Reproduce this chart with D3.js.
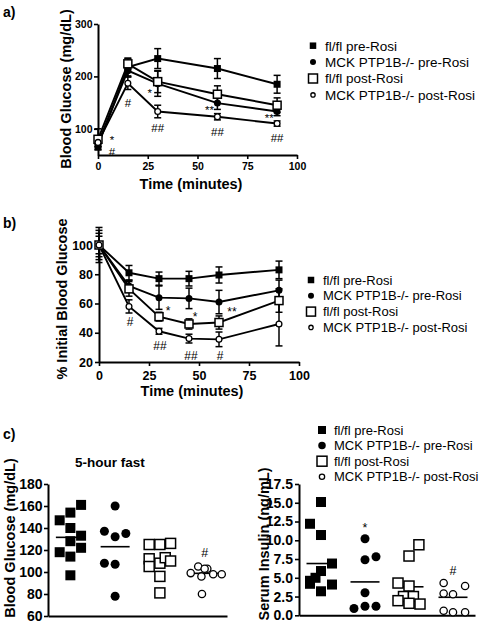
<!DOCTYPE html>
<html><head><meta charset="utf-8">
<script src="https://cdn.jsdelivr.net/npm/d3@7/dist/d3.min.js"></script>
<style>
body{margin:0;background:#fff}
svg{display:block}
text{font-family:"Liberation Sans",Arial,Helvetica,sans-serif;fill:#000}
</style>
</head><body>
<svg id="chart" width="480" height="622"></svg>
<script>
// ---------- shared ----------
const seriesNames = ["fl/fl pre-Rosi", "MCK PTP1B-/- pre-Rosi", "fl/fl post-Rosi", "MCK PTP1B-/- post-Rosi"];
const seriesShapes = ["fsq", "fci", "osq", "oci"];

// ---------- panel a: blood glucose (mg/dL) ----------
const timeA = [0, 15, 30, 60, 90];
const gttFlPre = [68, 218, 234, 215, 185];
const gttFlPreErr = [8, 17, 19, 19, 17];
const gttKoPre = [72, 211, 186, 149, 133];
const gttKoPreErr = [6, 12, 24, 12, 8];
const gttFlPost = [80, 224, 190, 166, 145];
const gttFlPostErr = [20, 10, 21, 16, 14];
const gttKoPost = [74, 187, 133, 123, 110];
const gttKoPostErr = [8, 12, 12, 6, 5];
const ticksAy = [100, 200, 300];
const ticksAx = [0, 25, 50, 75, 100];
const annotA = [
  {t: 7, v: 83, s: "*"}, {t: 7, v: 56, s: "#"},
  {t: 15, v: 149, s: "#"},
  {t: 26, v: 174, s: "*"}, {t: 30, v: 101, s: "##"},
  {t: 56, v: 141, s: "**"}, {t: 60, v: 94, s: "##"},
  {t: 86, v: 126, s: "**"}, {t: 90, v: 82, s: "##"}
];

// ---------- panel b: % initial blood glucose ----------
const timeB = [0, 15, 30, 45, 60, 90];
const ittFlPre = [100, 81, 77, 77, 79.5, 83];
const ittFlPreErr = [6, 5, 4.5, 5, 5.5, 6];
const ittKoPre = [100, 72, 64, 63.5, 61, 69];
const ittKoPreErr = [8, 4, 8, 7, 8, 7];
const ittFlPost = [100, 70, 51, 46, 47, 62];
const ittFlPostErr = [12, 5, 3, 3.5, 4.5, 8];
const ittKoPost = [100, 58, 41, 36, 35.5, 46];
const ittKoPostErr = [10, 4.5, 2, 3, 5, 15];
const ticksBy = [20, 40, 60, 80, 100];
const ticksBx = [0, 25, 50, 75, 100];
const annotB = [
  {t: 15.5, v: 47.7, s: "#"},
  {t: 34.5, v: 57, s: "*"}, {t: 30.5, v: 31, s: "##"},
  {t: 48, v: 53, s: "*"}, {t: 46, v: 24, s: "##"},
  {t: 66.5, v: 56.4, s: "**"}, {t: 60.5, v: 24, s: "#"}
];

// ---------- panel c: 5-hour fast ----------
const glucFlPre = [147, 154, 161, 140, 133, 128, 118, 122, 114, 97];
const glucFlPreSlot = [-1, 0, 1, 0, 1, 0, -1, 1, 0, 0];
const glucKoPre = [137, 160, 132, 135, 108, 107, 78];
const glucKoPreSlot = [-1, 0, 0, 1, -1, 0, 0];
const glucFlPost = [125, 125, 126, 112, 105, 108, 113, 110, 96, 81];
const glucFlPostSlot = [-1, 0, 1, -1, -1, 0, 0.5, 1, 0, 0];
const glucKoPost = [99, 105, 103, 96, 98, 98, 80, 103];
const glucKoPostSlot = [-1.3, -0.6, 0.25, -0.3, 0.8, 1.6, -0.25, 0];
const glucMeans = [131.5, 123, 111, 98.8];
const ticksCgluc = [60, 80, 100, 120, 140, 160, 180];

const insFlPre = [15.1, 12.2, 10.7, 6.9, 5.9, 5.0, 4.6, 4.2, 4.1, 3.2];
const insFlPreSlot = [0, -1, 0, 1, 0, -0.5, -1, -1, 1, 0];
const insKoPre = [10.2, 7.4, 7.8, 3.0, 0.9, 1.2, 1.2];
const insKoPreSlot = [0, 0, 1, 0, -1, 0, 1];
const insFlPost = [9.4, 7.9, 4.3, 3.9, 2.5, 2.5, 1.95, 1.6, 1.5];
const insFlPostSlot = [0.9, 0, -1, 0, -0.5, 0.4, -1, 0, 1];
const insKoPost = [4.3, 3.9, 2.9, 2.8, 0.6, 0.4, 0.4];
const insKoPostSlot = [-0.85, 1.1, -0.85, 0, -0.85, 0, 1.1];
const insMeans = [6.9, 4.45, 3.8, 2.4];
const ticksCins = [0, 2.5, 5, 7.5, 10, 12.5, 15, 17.5];
const annotC = [
  {chart: "gluc", g: 3, v: 118, s: "#"},
  {chart: "ins", g: 1, v: 12.0, s: "*"},
  {chart: "ins", g: 3, v: 6.0, s: "#"}
];

// ---------- helpers ----------
const svg = d3.select("#chart");

function marker(g, shape, x, y, s) {
  if (shape === "fsq") {
    g.append("rect").attr("x", x - s / 2).attr("y", y - s / 2).attr("width", s).attr("height", s).attr("fill", "#000");
  } else if (shape === "osq") {
    g.append("rect").attr("x", x - s / 2).attr("y", y - s / 2).attr("width", s).attr("height", s)
      .attr("fill", "#fff").attr("stroke", "#000").attr("stroke-width", 1.5);
  } else if (shape === "fci") {
    g.append("circle").attr("cx", x).attr("cy", y).attr("r", s / 2).attr("fill", "#000");
  } else {
    g.append("circle").attr("cx", x).attr("cy", y).attr("r", s / 2 - 0.6)
      .attr("fill", "#fff").attr("stroke", "#000").attr("stroke-width", 1.3);
  }
}

function annot(g, x, y, s, size) {
  const off = s.indexOf("*") >= 0 ? 0.57 * size : 0.36 * size;
  g.append("text").attr("x", x).attr("y", y + off).attr("text-anchor", "middle")
    .attr("font-size", size).text(s);
}

function styleAxis(ax, fs) {
  ax.select(".domain").attr("stroke", "#000").attr("stroke-width", 2);
  ax.selectAll(".tick line").attr("stroke", "#000").attr("stroke-width", 1.6);
  ax.selectAll(".tick text").attr("font-size", fs).attr("font-weight", "bold")
    .attr("font-family", '"Liberation Sans",Arial,Helvetica,sans-serif').attr("fill", "#000");
}

function legend(g, x0, y0, dy, fs, sizes) {
  seriesNames.forEach((n, i) => {
    const y = y0 + i * dy;
    marker(g, seriesShapes[i], x0, y, sizes[i]);
    g.append("text").attr("x", x0 + 12).attr("y", y + fs * 0.36).attr("font-size", fs).text(n);
  });
}

function lineChart(cfg) {
  const g = svg.append("g");
  const x = d3.scaleLinear().domain([0, 100]).range(cfg.xr);
  const y = d3.scaleLinear().domain(cfg.yd).range(cfg.yr);
  const ax = g.append("g").attr("transform", `translate(0,${cfg.yr[0]})`)
    .call(d3.axisBottom(x).tickValues(cfg.xticks).tickSize(4).tickSizeOuter(0).tickPadding(cfg.xpad));
  styleAxis(ax, cfg.tickFs);
  const ay = g.append("g").attr("transform", `translate(${cfg.xr[0]},0)`)
    .call(d3.axisLeft(y).tickValues(cfg.yticks).tickSize(4).tickSizeOuter(0).tickPadding(cfg.ypad));
  styleAxis(ay, cfg.tickFs);
  const line = d3.line().x(d => x(d.t)).y(d => y(d.v));
  cfg.series.forEach((s, i) => {
    const pts = cfg.times.map((t, k) => ({t: t, v: s.v[k], e: s.e[k]}));
    g.append("path").datum(pts).attr("d", line).attr("fill", "none").attr("stroke", "#000").attr("stroke-width", 1.9);
  });
  cfg.series.forEach((s, i) => {
    cfg.times.forEach((t, k) => {
      const xx = x(t), y1 = y(s.v[k] - s.e[k]), y2 = y(s.v[k] + s.e[k]);
      g.append("line").attr("x1", xx).attr("x2", xx).attr("y1", y1).attr("y2", y2).attr("stroke", "#000").attr("stroke-width", 1.5);
      [y1, y2].forEach(yy => g.append("line").attr("x1", xx - 3.5).attr("x2", xx + 3.5).attr("y1", yy).attr("y2", yy)
        .attr("stroke", "#000").attr("stroke-width", 1.5));
    });
  });
  const msz = [7, 7, 8, 7];
  cfg.series.forEach((s, i) => {
    cfg.times.forEach((t, k) => marker(g, seriesShapes[i], x(t), y(s.v[k]), msz[i]));
  });
  cfg.annots.forEach(a => annot(g, x(a.t), y(a.v), a.s, cfg.annFs));
  g.append("text").attr("transform", `translate(${cfg.ylab[0]},${cfg.ylab[1]}) rotate(-90)`)
    .attr("text-anchor", "middle").attr("font-weight", "bold").attr("font-size", 14.5).text(cfg.ytitle);
  g.append("text").attr("x", cfg.xlab[0]).attr("y", cfg.xlab[1]).attr("text-anchor", "middle")
    .attr("font-weight", "bold").attr("font-size", 14.5).text("Time (minutes)");
  return g;
}

// ---------- panel a ----------
svg.append("text").attr("x", 3).attr("y", 17).attr("font-weight", "bold").attr("font-size", 14).text("a)");
lineChart({
  xr: [98, 297], yd: [50, 300], yr: [155, 24],
  xticks: ticksAx, yticks: ticksAy, tickFs: 10.5, xpad: 4, ypad: 1.5, annFs: 11.5,
  times: timeA,
  series: [
    {v: gttFlPre, e: gttFlPreErr}, {v: gttKoPre, e: gttKoPreErr},
    {v: gttFlPost, e: gttFlPostErr}, {v: gttKoPost, e: gttKoPostErr}
  ],
  annots: annotA,
  ytitle: "Blood Glucose (mg/dL)", ylab: [71, 89], xlab: [191, 189]
});
legend(svg.append("g"), 313, 45.7, 16.4, 13.5, [6.5, 6, 9, 5.5]);

// ---------- panel b ----------
svg.append("text").attr("x", 3).attr("y", 228).attr("font-weight", "bold").attr("font-size", 14).text("b)");
lineChart({
  xr: [99, 299], yd: [20, 100], yr: [362, 245],
  xticks: ticksBx, yticks: ticksBy, tickFs: 12.5, xpad: 5, ypad: 2, annFs: 12,
  times: timeB,
  series: [
    {v: ittFlPre, e: ittFlPreErr}, {v: ittKoPre, e: ittKoPreErr},
    {v: ittFlPost, e: ittFlPostErr}, {v: ittKoPost, e: ittKoPostErr}
  ],
  annots: annotB,
  ytitle: "% Initial Blood Glucose", ylab: [67, 299], xlab: [192, 396]
});
legend(svg.append("g"), 311, 280, 15.8, 13, [6.5, 6, 9, 5.5]);

// ---------- panel c ----------
svg.append("text").attr("x", 3).attr("y", 439).attr("font-weight", "bold").attr("font-size", 14).text("c)");
svg.append("text").attr("x", 110).attr("y", 467).attr("text-anchor", "middle").attr("font-weight", "bold")
  .attr("font-size", 13.5).text("5-hour fast");

function dotChart(cfg) {
  const g = svg.append("g");
  const x = d3.scaleBand().domain(seriesNames).range(cfg.xr).paddingInner(0).paddingOuter(0);
  const y = d3.scaleLinear().domain(cfg.yd).range(cfg.yr);
  const ax = g.append("g").attr("transform", `translate(0,${cfg.yr[0]})`)
    .call(d3.axisBottom(x).tickValues([]).tickSizeOuter(0));
  styleAxis(ax, 14);
  const ay = g.append("g").attr("transform", `translate(${cfg.xr[0]},0)`)
    .call(d3.axisLeft(y).tickValues(cfg.yticks).tickSize(4).tickSizeOuter(0).tickPadding(cfg.ypad)
      .tickFormat(cfg.fmt));
  styleAxis(ay, 14);
  const cx = i => x(seriesNames[i]) + x.bandwidth() / 2;
  cfg.groups.forEach((grp, i) => {
    g.append("line").attr("x1", cx(i) - 14.5).attr("x2", cx(i) + 14.5)
      .attr("y1", y(cfg.means[i])).attr("y2", y(cfg.means[i])).attr("stroke", "#000").attr("stroke-width", 1.6);
  });
  const msz = [10, 9, 10, 8.5];
  cfg.groups.forEach((grp, i) => {
    grp.v.forEach((v, k) => marker(g, seriesShapes[i], cx(i) + grp.s[k] * cfg.slot, y(v), msz[i]));
  });
  cfg.annots.forEach(a => annot(g, cx(a.g), y(a.v), a.s, 12.5));
  g.append("text").attr("transform", `translate(${cfg.ylab[0]},${cfg.ylab[1]}) rotate(-90)`)
    .attr("text-anchor", "middle").attr("font-weight", "bold").attr("font-size", 14.5).text(cfg.ytitle);
}

dotChart({
  xr: [48, 227], yd: [60, 180], yr: [616, 484], yticks: ticksCgluc, ypad: 1.5, slot: 10.7,
  fmt: d3.format("d"),
  groups: [
    {v: glucFlPre, s: glucFlPreSlot}, {v: glucKoPre, s: glucKoPreSlot},
    {v: glucFlPost, s: glucFlPostSlot}, {v: glucKoPost, s: glucKoPostSlot}
  ],
  means: glucMeans,
  annots: annotC.filter(a => a.chart === "gluc"),
  ytitle: "Blood Glucose (mg/dL)", ylab: [15, 538]
});

dotChart({
  xr: [299, 475], yd: [0, 17.5], yr: [615.3, 484], yticks: ticksCins, ypad: 2, slot: 11,
  fmt: d3.format(".1f"),
  groups: [
    {v: insFlPre, s: insFlPreSlot}, {v: insKoPre, s: insKoPreSlot},
    {v: insFlPost, s: insFlPostSlot}, {v: insKoPost, s: insKoPostSlot}
  ],
  means: insMeans,
  annots: annotC.filter(a => a.chart === "ins"),
  ytitle: "Serum Insulin (ng/mL)", ylab: [269, 544]
});
legend(svg.append("g"), 322, 430, 15.6, 13, [8, 7.5, 10, 6.5]);
</script>
</body></html>
